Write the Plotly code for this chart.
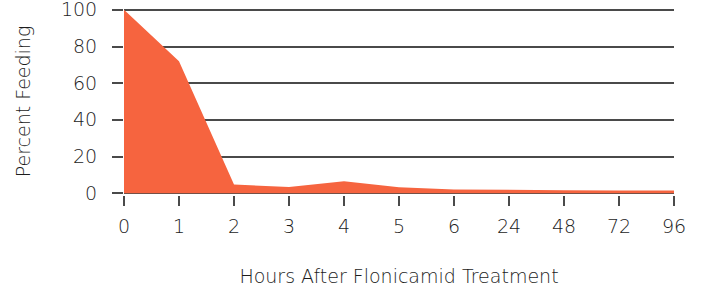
import plotly.graph_objects as go

hours = ["0", "1", "2", "3", "4", "5", "6", "24", "48", "72", "96"]
percent_feeding = [100, 72, 4.7, 3.4, 6.5, 3.2, 2, 2, 1.6, 1.5, 1.4]
y_ticks = [0, 20, 40, 60, 80, 100]

fig = go.Figure()
fig.add_trace(go.Scatter(
    x=hours, y=percent_feeding, mode="lines", fill="tozeroy",
    fillcolor="#f6643f", line=dict(width=0, color="#f6643f"),
    hoverinfo="skip", showlegend=False,
))

font_family = "DejaVu Sans"
text_color = "#1c1c1c"
grid_color = "#4a4a4a"
fs = 19
fw = 200

fig.update_layout(
    width=706, height=290,
    margin=dict(l=124, r=32, t=8, b=95),
    plot_bgcolor="white", paper_bgcolor="white",
    font=dict(family=font_family, size=fs, color=text_color, weight=fw),
    xaxis=dict(
        type="category", range=[0, 10], showgrid=False, zeroline=False,
        showline=False, ticks="outside", ticklen=10, tickcolor=grid_color,
        tickwidth=1.5, automargin=False, ticklabelstandoff=4,
        tickfont=dict(size=fs, color=text_color, weight=fw),
        title=dict(text="Hours After Flonicamid Treatment", standoff=33,
                   font=dict(size=fs, color=text_color, weight=fw)),
    ),
    yaxis=dict(
        range=[-1, 101], tickvals=y_ticks, showgrid=True,
        gridcolor=grid_color, gridwidth=1.5, zeroline=False, showline=False,
        ticks="outside", ticklen=11, tickcolor=grid_color, tickwidth=1.5,
        automargin=False, ticklabelstandoff=11, ticklabeloverflow="allow",
        tickfont=dict(size=fs, color=text_color, weight=fw),
        title=dict(text="Percent Feeding", standoff=25,
                   font=dict(size=fs, color=text_color, weight=fw)),
    ),
)

fig.write_html("out.html", config={"displayModeBar": False},
               post_script="document.body.style.margin='0';")
